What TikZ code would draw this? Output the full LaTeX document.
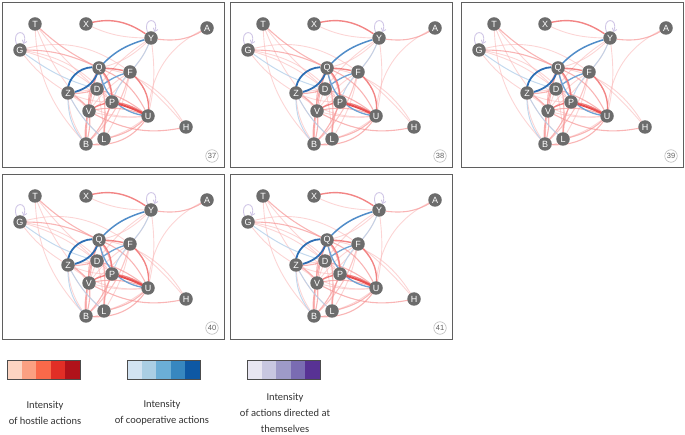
\documentclass[tikz,border=0pt]{standalone}
\usepackage{fontspec}
\setmainfont{Carlito}
\newfontfamily\nodefont{Liberation Sans}
\usetikzlibrary{arrows.meta}
\pgfdeclarelayer{edges}
\pgfsetlayers{edges,main}
\definecolor{nodegray}{RGB}{108,108,108}
\definecolor{framegray}{RGB}{95,95,95}
\definecolor{hAc}{RGB}{250,185,185}
\definecolor{hBc}{RGB}{246,150,150}
\definecolor{hCc}{RGB}{240,112,112}
\definecolor{hDc}{RGB}{232,78,78}
\definecolor{cAc}{RGB}{180,208,234}
\definecolor{cBc}{RGB}{110,162,212}
\definecolor{cMc}{RGB}{80,140,200}
\definecolor{cCc}{RGB}{45,110,180}
\definecolor{sAc}{RGB}{208,198,230}
\definecolor{rA}{RGB}{252,212,194}
\definecolor{rB}{RGB}{251,160,130}
\definecolor{rC}{RGB}{250,105,74}
\definecolor{rD}{RGB}{226,46,38}
\definecolor{rE}{RGB}{176,18,26}
\definecolor{bA}{RGB}{210,227,242}
\definecolor{bB}{RGB}{170,206,228}
\definecolor{bC}{RGB}{107,174,214}
\definecolor{bD}{RGB}{55,135,192}
\definecolor{bE}{RGB}{14,88,164}
\definecolor{pA}{RGB}{232,230,242}
\definecolor{pB}{RGB}{200,199,225}
\definecolor{pC}{RGB}{158,154,200}
\definecolor{pD}{RGB}{122,108,178}
\definecolor{pE}{RGB}{88,50,148}
\tikzset{
  x=1pt, y=-1pt,
  vtx/.style={circle, fill=nodegray, text=white, inner sep=0pt, minimum size=13.5pt,
    font=\nodefont\fontsize{9}{9}\selectfont},
  numlbl/.style={circle, draw=gray!55, line width=0.6pt, inner sep=0pt, minimum size=12.5pt,
    text=gray!75!black, font=\nodefont\fontsize{7.5}{8}\selectfont},
  frame/.style={draw=framegray, line width=0.9pt},
  ed/.style={-{Straight Barb[length=2.8pt,width=5pt]}},
  eh1/.style={ed, draw=hAc, line width=0.9pt, draw opacity=0.6},
  eh2/.style={ed, draw=hBc, line width=1.1pt, draw opacity=0.7},
  eh3/.style={ed, draw=hCc, line width=1.4pt, draw opacity=0.85},
  eh4/.style={ed, draw=hDc, line width=2pt},
  ec1/.style={ed, draw=cAc, line width=1pt, draw opacity=0.8},
  ec2/.style={ed, draw=cBc, line width=1.3pt},
  ec25/.style={ed, draw=cMc, line width=1.5pt},
  ec3/.style={ed, draw=cCc, line width=1.8pt},
  es/.style={ed, draw=sAc, line width=0.9pt},
  legframe/.style={draw=black!70, line width=0.9pt},
  legtxt/.style={align=center, text=black!80, font=\fontsize{10.5}{16}\selectfont}
}
\newcommand{\netpanel}[3]{%
\begin{scope}[shift={(#1,#2)}, name prefix=p#3-]
  \draw[frame] (0,0) rectangle (222,165);
  \node[vtx] (T) at (33,22) {T};
  \node[vtx] (X) at (84,22) {X};
  \node[vtx] (A) at (205,26) {A};
  \node[vtx] (Y) at (149,36) {Y};
  \node[vtx] (G) at (18,48) {G};
  \node[vtx] (Q) at (97,66) {Q};
  \node[vtx] (F) at (128,70) {F};
  \node[vtx] (Z) at (66,91) {Z};
  \node[vtx] (D) at (95,87) {D};
  \node[vtx] (P) at (110,100) {P};
  \node[vtx] (V) at (87,109) {V};
  \node[vtx] (U) at (146,114) {U};
  \node[vtx] (H) at (184,125) {H};
  \node[vtx] (B) at (84,142) {B};
  \node[vtx] (L) at (102,137) {L};
  \node[numlbl] (num) at (210,154) {#3};
  \begin{pgfonlayer}{edges}
    % light hostile
    \draw[eh1] (Y) to[bend left=10] (F);
    \draw[eh1] (Y) to[bend right=10] (D);
    \draw[eh1] (Y) to[bend left=15] (Q);
    \draw[eh1] (Y) to[bend left=10] (U);
    \draw[eh1] (F) to[bend left=5] (H);
    \draw[eh1] (H) to[bend right=25] (Q);
    \draw[eh1] (U) to[bend left=30] (A);
    \draw[eh1] (D) to[bend right=10] (G);
    \draw[eh1] (Z) to[bend left=10] (G);
    \draw[eh1] (F) to[bend right=25] (G);
    \draw[eh1] (V) to[bend left=10] (T);
    \draw[eh1] (B) to[bend left=20] (T);
    \draw[eh1] (Z) to[bend right=10] (P);
    \draw[eh1] (Z) to[bend right=20] (U);
    \draw[eh1] (B) to[bend left=10] (D);
    \draw[eh1] (L) to[bend right=5] (D);
    \draw[eh1] (B) to[bend right=15] (F);
    \draw[eh1] (L) to[bend right=10] (F);
    \draw[eh1] (V) to[bend left=10] (F);
    \draw[eh1] (F) to[bend left=10] (V);
    \draw[eh1] (Q) to[bend right=10] (B);
    \draw[eh1] (F) to[bend left=15] (B);
    \draw[eh1] (U) to[bend left=10] (L);
    \draw[eh1] (L) to[bend left=20] (B);
    \draw[eh1] (D) to (P);
    \draw[eh1] (Z) to (D);
    \draw[eh1] (V) to[bend right=10] (U);
    \draw[eh1] (Y) to[bend left=12] (X);
    \draw[eh1] (B) to[bend left=15] (Z);
    \draw[eh1] (L) to[bend left=10] (Z);
    \draw[eh1] (P) to[bend right=20] (G);
    \draw[eh1] (D) to[bend left=5] (T);
    % medium hostile
    \draw[eh2] (Q) to[bend left=8] (T);
    \draw[eh2] (Q) to[bend right=12] (G);
    \draw[eh2] (V) to[bend right=20] (H);
    \draw[eh2] (B) to[bend right=30] (U);
    \draw[eh2] (B) to[bend left=10] (Q);
    \draw[eh2] (L) to[bend right=8] (Q);
    \draw[eh2] (V) to[bend left=5] (Q);
    \draw[eh2] (P) to[bend left=10] (B);
    \draw[eh2] (P) to[bend right=10] (L);
    \draw[eh2] (V) to[bend right=10] (B);
    \draw[eh2] (B) to[bend right=10] (V);
    \draw[eh2] (D) to[bend left=10] (Z);
    \draw[eh2] (Q) to[bend right=15] (V);
    \draw[eh2] (D) to[bend left=10] (U);
    \draw[eh2] (U) to[bend right=15] (V);
    \draw[eh2] (U) to[bend right=20] (Q);
    \draw[eh2] (Z) to[bend left=15] (V);
    \draw[eh2] (Y) to[bend right=20] (A);
    \draw[eh2] (L) to[bend right=15] (U);
    \draw[eh2] (Q) to[bend left=15] (P);
    % light / medium cooperative
    \draw[ec1] (Z) to[bend right=20] (B);
    \draw[ec1] (G) to[bend right=10] (D);
    \draw[ec1] (F) to[bend right=10] (Y);
    \draw[ec1] (Z) to[bend right=10] (L);
    \draw[ec1] (P) to[bend left=10] (F);
    \draw[ec2] (Q) to[bend right=35] (U);
    \draw[ec2] (D) to[bend left=10] (F);
    % self loops
    \draw[es] (Y.120) .. controls +(110:16pt) and +(70:16pt) .. (Y.60);
    \draw[es] (G.120) .. controls +(110:16pt) and +(70:16pt) .. (G.60);
    % strong hostile
    \draw[eh3] (Y) to[bend right=25] (X);
    \draw[eh3] (F) to[bend left=25] (U);
    \draw[eh3] (F) to[bend right=5] (Q);
    \draw[eh3] (P) to[bend right=20] (Q);
    \draw[eh3] (P) to[bend right=10] (V);
    \draw[eh3] (U) to[bend right=12] (P);
    \draw[eh4] (P) to[bend left=5] (U);
    % strong cooperative
    \draw[ec25] (Y) to[bend right=15] (Q);
    \draw[ec3] (Q) to[bend right=45] (Z);
    \draw[ec3] (Z) to[bend right=30] (Q);
  \end{pgfonlayer}
\end{scope}}
\begin{document}
\begin{tikzpicture}
  \useasboundingbox (0,0) rectangle (685,435);
  \netpanel{2}{2}{37}
  \netpanel{230}{2}{38}
  \netpanel{461}{2}{39}
  \netpanel{2}{174}{40}
  \netpanel{230}{174}{41}
  % legend bars
  \foreach \c [count=\i from 0] in {rA,rB,rC,rD,rE}
    \fill[\c] (7+\i*14.6,360) rectangle ++(14.6,19);
  \draw[legframe] (7,360) rectangle (80,379);
  \foreach \c [count=\i from 0] in {bA,bB,bC,bD,bE}
    \fill[\c] (127+\i*14.6,360) rectangle ++(14.6,19);
  \draw[legframe] (127,360) rectangle (200,379);
  \foreach \c [count=\i from 0] in {pA,pB,pC,pD,pE}
    \fill[\c] (247+\i*14.6,360) rectangle ++(14.6,19);
  \draw[legframe] (247,360) rectangle (320,379);
  \node[legtxt] (lhost) at (45,413) {Intensity\\of hostile actions};
  \node[legtxt] (lcoop) at (162,413) {Intensity\\of cooperative actions};
  \node[legtxt] (lself) at (285,413) {Intensity\\of actions directed at\\themselves};
\end{tikzpicture}
\end{document}
